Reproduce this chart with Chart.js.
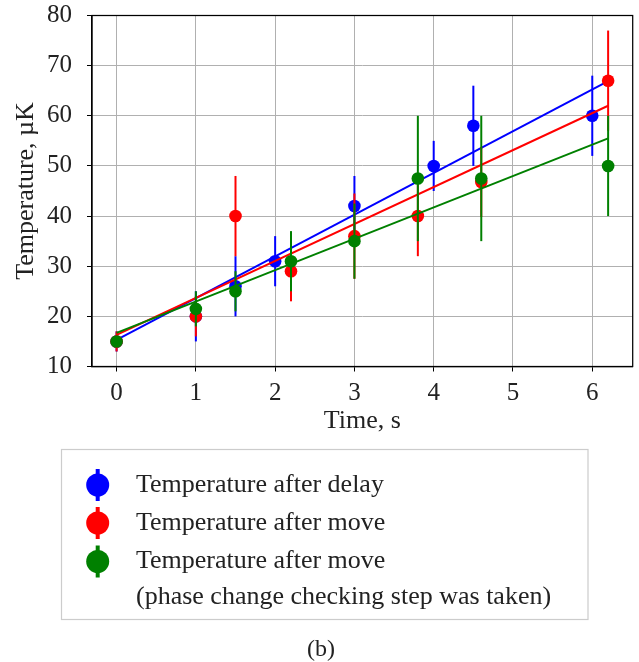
<!DOCTYPE html>
<html>
<head>
<meta charset="utf-8">
<script src="https://cdn.jsdelivr.net/npm/chart.js@4/dist/chart.umd.min.js"></script>
<style>
  html, body { margin: 0; padding: 0; background: #fff; }
  #wrap { width: 639px; height: 662px; position: relative; }
</style>
</head>
<body>
<div id="wrap"><canvas id="c" width="639" height="662"></canvas></div>
<script>
// Measurement times (s) and temperatures (µK) with their uncertainties
const delayTimes = [0, 1, 1.5, 2, 3, 4, 4.5, 6];
const delayTemps = [15, 20, 26, 31, 42, 50, 58, 60];
const delayErrs  = [2, 5, 6, 5, 6, 5, 8, 8];

const moveTimes = [0, 1, 1.5, 2.2, 3, 3.8, 4.6, 6.2];
const moveTemps = [15, 20, 40, 29, 36, 40, 46.8, 67];
const moveErrs  = [2, 4, 8, 6, 8.5, 8, 7, 10];

const phaseTimes = [0, 1, 1.5, 2.2, 3, 3.8, 4.6, 6.2];
const phaseTemps = [15, 21.5, 25, 31, 35, 47.5, 47.5, 50];
const phaseErrs  = [1, 3.5, 4, 6, 7.5, 12.5, 12.5, 10];

// Linear fits: value at the first and last time of the fit range
const fitRange  = [0, 6.2];
const fitDelay  = [15.3, 66.9];
const fitMove   = [16.3, 62.0];
const fitPhase  = [16.7, 55.5];

const xTickValues = [0, 1, 2, 3, 4, 5, 6];
const yTickValues = [10, 20, 30, 40, 50, 60, 70, 80];

const seriesNames = [
  ['Temperature after delay'],
  ['Temperature after move'],
  ['Temperature after move', '(phase change checking step was taken)']
];
const caption = '(b)';

const BLUE = '#0000ff', RED = '#ff0000', GREEN = '#008000';
const SERIF = '"Liberation Serif", "Times New Roman", serif';
const TEXT = '#222222';

const pts = (xs, ys) => xs.map((x, i) => ({ x, y: ys[i] }));

function scatterSet(label, xs, ys, errs, color, order) {
  return {
    type: 'scatter', label, data: pts(xs, ys), errors: errs,
    backgroundColor: color, borderColor: color, pointRadius: 6.3,
    pointBorderWidth: 0, pointHoverRadius: 6.3, order
  };
}
function fitSet(label, ends, color, order) {
  return {
    type: 'line', label, data: pts(fitRange, ends),
    borderColor: color, borderWidth: 2, pointRadius: 0, fill: false, order
  };
}

// Vertical error bars drawn right before each series' markers
const errorBars = {
  id: 'errorBars',
  beforeDatasetDraw(chart, args) {
    const ds = chart.data.datasets[args.index];
    if (!ds.errors) return;
    const { ctx, scales: { x, y } } = chart;
    ctx.save();
    ctx.strokeStyle = ds.borderColor;
    ctx.lineWidth = 2;
    ds.data.forEach((p, i) => {
      const px = x.getPixelForValue(p.x);
      ctx.beginPath();
      ctx.moveTo(px, y.getPixelForValue(p.y - ds.errors[i]));
      ctx.lineTo(px, y.getPixelForValue(p.y + ds.errors[i]));
      ctx.stroke();
    });
    ctx.restore();
  }
};

// Frame, legend box and caption
const decorations = {
  id: 'decorations',
  afterDatasetsDraw(chart) {
    const { ctx, chartArea: a } = chart;
    ctx.save();
    ctx.strokeStyle = '#000';
    ctx.lineWidth = 1.25;
    ctx.strokeRect(a.left, a.top, a.right - a.left, a.bottom - a.top);
    ctx.restore();
  },
  afterDraw(chart) {
    const ctx = chart.ctx;
    ctx.save();
    ctx.strokeStyle = '#cccccc';
    ctx.lineWidth = 1.2;
    ctx.strokeRect(61.5, 449.5, 526.5, 170);

    const colors = [BLUE, RED, GREEN];
    const rows = [485, 523, 561.5];
    ctx.font = '26px ' + SERIF;
    ctx.fillStyle = TEXT;
    ctx.textBaseline = 'middle';
    ctx.textAlign = 'left';
    rows.forEach((cy, i) => {
      ctx.strokeStyle = colors[i];
      ctx.lineWidth = 4;
      ctx.beginPath();
      ctx.moveTo(97.7, cy - 16);
      ctx.lineTo(97.7, cy + 16);
      ctx.stroke();
      ctx.fillStyle = colors[i];
      ctx.beginPath();
      ctx.arc(97.7, cy, 11.5, 0, Math.PI * 2);
      ctx.fill();
      ctx.fillStyle = TEXT;
      seriesNames[i].forEach((line, k) => ctx.fillText(line, 136, cy + k * 36));
    });

    ctx.font = '24px ' + SERIF;
    ctx.textAlign = 'center';
    ctx.fillText(caption, 321, 650);
    ctx.restore();
  }
};

new Chart(document.getElementById('c'), {
  data: {
    datasets: [
      scatterSet(seriesNames[0][0], delayTimes, delayTemps, delayErrs, BLUE, 6),
      fitSet('fit delay', fitDelay, BLUE, 5),
      scatterSet(seriesNames[1][0], moveTimes, moveTemps, moveErrs, RED, 4),
      fitSet('fit move', fitMove, RED, 3),
      scatterSet(seriesNames[2].join(' '), phaseTimes, phaseTemps, phaseErrs, GREEN, 2),
      fitSet('fit phase', fitPhase, GREEN, 1)
    ]
  },
  plugins: [errorBars, decorations],
  options: {
    responsive: false,
    animation: false,
    events: [],
    layout: { padding: { left: 0, right: 6, top: 15.5, bottom: 215.5 } },
    plugins: { legend: { display: false }, tooltip: { enabled: false } },
    scales: {
      x: {
        type: 'linear', min: -0.31, max: 6.51,
        afterBuildTicks: s => { s.ticks = xTickValues.map(v => ({ value: v })); },
        afterFit: s => { s.height = 80; s.paddingLeft = 0; s.paddingRight = 0; },
        grid: { color: '#b0b0b0', lineWidth: 1, tickColor: '#000', tickLength: 5 },
        border: { color: '#000', width: 1.25 },
        ticks: { font: { family: SERIF, size: 25 }, color: TEXT, padding: 7, maxRotation: 0 },
        title: { display: true, text: 'Time, s', font: { family: SERIF, size: 26 }, color: TEXT,
                 padding: { top: 0, bottom: 10 } }
      },
      y: {
        type: 'linear', min: 10, max: 80,
        afterBuildTicks: s => { s.ticks = yTickValues.map(v => ({ value: v })); },
        afterFit: s => { s.width = 92; s.paddingTop = 0; s.paddingBottom = 0; },
        grid: { color: '#b0b0b0', lineWidth: 1, tickColor: '#000', tickLength: 5 },
        border: { color: '#000', width: 1.25 },
        ticks: { font: { family: SERIF, size: 25 }, color: TEXT, padding: 15 },
        title: { display: true, text: 'Temperature, µK', font: { family: SERIF, size: 26 }, color: TEXT,
                 padding: { top: 11, bottom: 0 } }
      }
    }
  }
});
</script>
</body>
</html>
